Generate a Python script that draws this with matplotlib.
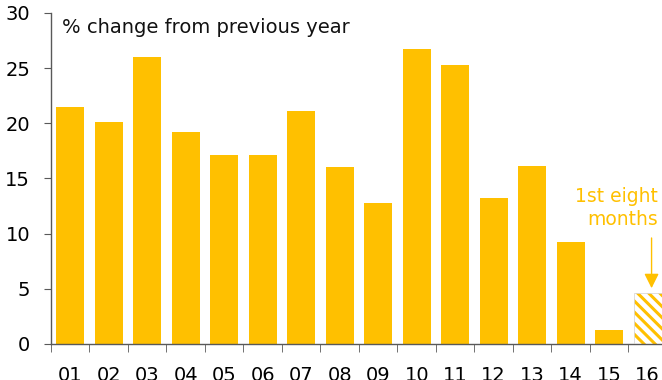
import matplotlib
matplotlib.use("Agg")
import matplotlib.pyplot as plt
import numpy as np

years = ["01", "02", "03", "04", "05", "06", "07", "08", "09", "10",
         "11", "12", "13", "14", "15", "16"]
growth = [21.5, 20.1, 26.0, 19.2, 17.1, 17.1, 21.1, 16.0, 12.8, 26.7,
          25.3, 13.2, 16.1, 9.2, 1.3, 4.6]
yticks = [0, 5, 10, 15, 20, 25, 30]

gold = "#FFC000"
plt.rcParams["font.family"] = ["DejaVu Sans"]
plt.rcParams["hatch.linewidth"] = 2.2
plt.rcParams["hatch.color"] = gold

fig = plt.figure(figsize=(6.62, 3.8), dpi=100)
ax = fig.add_axes([0.077, 0.095, 0.9305, 0.871])

x = np.arange(len(years))
ax.bar(x[:-1], growth[:-1], width=0.73, color=gold, zorder=2)
ax.bar(x[-1], growth[-1], width=0.73, color="white", edgecolor=gold,
       hatch="\\\\\\", linewidth=0, zorder=2)
ax.bar(x[-1], growth[-1], width=0.73, color="none", edgecolor="#d9d9d9",
       linewidth=0.6, zorder=3)

ax.set_xlim(-0.5, len(years) - 0.5)
ax.set_ylim(0, 30)
ax.set_yticks(yticks)
ax.set_xticks(x)
ax.set_xticklabels(years)
ax.set_xticks(np.arange(-0.5, len(years)), minor=True)
ax.tick_params(axis="x", which="major", length=0, labelsize=14, pad=16)
ax.tick_params(axis="x", which="minor", length=6, color="#595959", direction="out")
ax.tick_params(axis="y", length=5, color="#595959", labelsize=14, pad=10)

for s in ["top", "right"]:
    ax.spines[s].set_visible(False)
for s in ["left", "bottom"]:
    ax.spines[s].set_color("#595959")
    ax.spines[s].set_linewidth(1)

ax.text(0.018, 0.985, "% change from previous year", transform=ax.transAxes,
        fontsize=14, va="top", ha="left", color="#111111")

ax.text(x[-1] + 0.27, 10.8, "1st eight\nmonths", ha="right", va="baseline",
        fontsize=13.5, color=gold, linespacing=1.25)
ax.annotate("", xy=(x[-1] + 0.1, growth[-1] + 0.45), xytext=(x[-1] + 0.1, 9.6),
            arrowprops=dict(arrowstyle="-|>", color=gold, lw=1, mutation_scale=22,
                            shrinkA=0, shrinkB=0))

fig.savefig("out.png", dpi=100)
